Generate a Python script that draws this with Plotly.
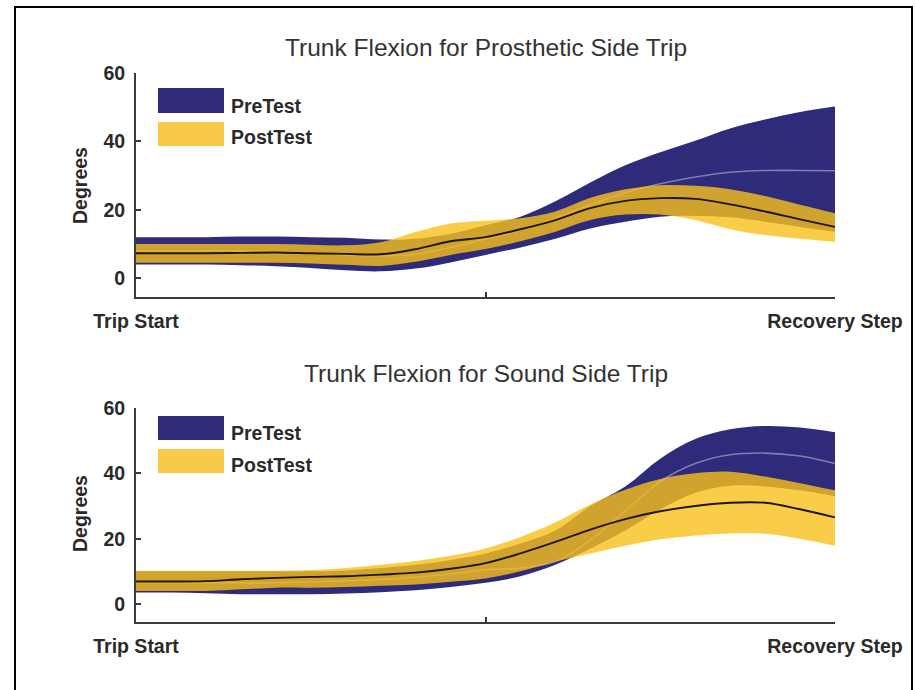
import plotly.graph_objects as go

# Normalised time from trip start (0) to recovery step (100)
t = [0, 5, 10, 15, 20, 25, 30, 35, 40, 45, 50, 55, 60, 65, 70, 75, 80, 85, 90, 95, 100]

# Prosthetic side trip: trunk flexion (degrees)
pros_pre_hi = [12, 12, 12, 12.2, 12.2, 12, 11.8, 11.3, 11.5, 13, 15.5, 18, 22.5, 28, 33, 36.8, 40.2, 43.8, 46.4, 48.6, 50.2]
pros_pre_mean = [8, 8, 8, 8, 7.8, 7.5, 6.8, 6.5, 7, 9, 11.5, 14, 17.5, 21.5, 25, 27.6, 29.6, 31, 31.5, 31.5, 31.4]
pros_pre_lo = [4, 4, 4, 3.8, 3.5, 3, 2.3, 2, 2.8, 4.6, 6.8, 9, 11.5, 14.5, 16.5, 18, 18.2, 17.8, 16.5, 15, 13.6]
pros_post_hi = [10, 10, 10, 10, 10, 9.8, 9.6, 10.5, 13.5, 16, 16.8, 17.5, 19.5, 23.5, 26, 27.2, 27, 26, 24, 21.5, 19]
pros_post_mean = [7.3, 7.3, 7.3, 7.4, 7.5, 7.3, 7.1, 7, 8.5, 10.8, 12, 14.3, 17, 20.5, 22.6, 23.4, 23.2, 21.6, 19.5, 17.2, 15]
pros_post_lo = [4.5, 4.5, 4.5, 4.5, 4.5, 4.3, 3.9, 3.6, 4.8, 6.8, 8.5, 10.8, 13.6, 17, 18.6, 18.6, 17, 14.3, 12.6, 11.5, 10.6]

# Sound side trip: trunk flexion (degrees)
sound_pre_hi = [10, 10, 10, 10, 10, 10, 10.3, 11, 12, 13.5, 15.5, 18.5, 22.5, 30, 36, 44.5, 50.5, 53.5, 54.5, 54, 52.6]
sound_pre_mean = [6.5, 6.5, 6.5, 6.5, 6.5, 6.8, 7, 7.5, 8.2, 9.2, 10.5, 11, 13, 19.5, 28.5, 37.5, 43, 45.7, 46.2, 45.3, 43]
sound_pre_lo = [3.5, 3.5, 3.3, 3, 3, 3, 3.2, 3.6, 4.2, 5.2, 6.5, 8.5, 12, 17, 22.5, 29, 34, 36.2, 36, 34.8, 33]
sound_post_hi = [10.2, 10.2, 10.2, 10.2, 10.2, 10.4, 11, 12, 13.2, 14.8, 17, 20.5, 25, 30.5, 35, 38.3, 40, 40.5, 39, 37, 34.8]
sound_post_mean = [6.9, 6.9, 7, 7.6, 8, 8.3, 8.5, 9, 9.6, 10.8, 12.5, 15.5, 19, 22.8, 26, 28.4, 30, 31, 31, 29, 26.5]
sound_post_lo = [4, 4, 4, 4.5, 5, 5, 5.2, 5.6, 6, 6.8, 7.8, 10, 13, 15.5, 17.8, 19.8, 21, 21.6, 21.5, 20, 17.8]

titles = ["Trunk Flexion for Prosthetic Side Trip", "Trunk Flexion for Sound Side Trip"]
x_tick_vals = [0, 50, 100]
x_tick_text = ["Trip Start", "", "Recovery Step"]
y_tick_vals = [0, 20, 40, 60]
legend_names = ["PreTest", "PostTest"]

NAVY = "#2e2b7a"
YELLOW_FILL = "rgba(249,193,28,0.8)"
YELLOW_SOLID = "#f8c94a"
PRE_LINE = "#7f7eaa"
POST_LINE = "#1e160a"
AXIS = "#3a3a3a"
TEXT = "#2a2a2a"
W, H = 915, 690


def px(x):
    return x / W


def py(y):
    return 1 - y / H


fig = go.Figure()

panels = [
    ("x", "y", pros_pre_lo, pros_pre_mean, pros_pre_hi, pros_post_lo, pros_post_mean, pros_post_hi),
    ("x2", "y2", sound_pre_lo, sound_pre_mean, sound_pre_hi, sound_post_lo, sound_post_mean, sound_post_hi),
]

for xa, ya, pre_lo, pre_mean, pre_hi, post_lo, post_mean, post_hi in panels:
    common = dict(x=t, xaxis=xa, yaxis=ya, mode="lines", showlegend=False, hoverinfo="skip")
    fig.add_trace(go.Scatter(y=pre_lo, line=dict(width=0, shape="spline"), **common))
    fig.add_trace(go.Scatter(y=pre_hi, line=dict(width=0, shape="spline"),
                             fill="tonexty", fillcolor=NAVY, **common))
    fig.add_trace(go.Scatter(y=pre_mean, line=dict(width=1.6, color=PRE_LINE, shape="spline"), **common))
    fig.add_trace(go.Scatter(y=post_lo, line=dict(width=0, shape="spline"), **common))
    fig.add_trace(go.Scatter(y=post_hi, line=dict(width=0, shape="spline"),
                             fill="tonexty", fillcolor=YELLOW_FILL, **common))
    fig.add_trace(go.Scatter(y=post_mean, line=dict(width=1.9, color=POST_LINE, shape="spline"), **common))

tick_font = dict(family="Liberation Sans, Arial, sans-serif", size=19.5, color=TEXT, weight="bold")

xaxis_style = dict(
    range=[0, 100], tickvals=x_tick_vals, ticktext=x_tick_text,
    showline=True, linecolor=AXIS, linewidth=2, showgrid=False, zeroline=False,
    ticks="inside", ticklen=5, tickwidth=1.5, tickcolor=AXIS,
    tickfont=tick_font, ticklabelstandoff=6, fixedrange=True, automargin=False,
)
yaxis_style = dict(
    range=[-5.5, 60], tickvals=y_tick_vals,
    showline=True, linecolor=AXIS, linewidth=2, showgrid=False, zeroline=False,
    ticks="inside", ticklen=5, tickwidth=1.5, tickcolor=AXIS,
    tickfont=tick_font, ticklabelstandoff=5, fixedrange=True, automargin=False,
)

x_dom = [px(136), px(835)]
fig.update_layout(
    width=W, height=H,
    margin=dict(l=0, r=0, t=0, b=0, autoexpand=False),
    paper_bgcolor="white", plot_bgcolor="white",
    showlegend=False,
    xaxis=dict(domain=x_dom, anchor="y", **xaxis_style),
    yaxis=dict(domain=[py(297), py(73)], anchor="x", **yaxis_style),
    xaxis2=dict(domain=x_dom, anchor="y2", **xaxis_style),
    yaxis2=dict(domain=[py(622), py(408)], anchor="x2", **yaxis_style),
)

annotations = []
shapes = []

# Outer frame
shapes.append(dict(type="rect", xref="paper", yref="paper",
                   x0=px(15), x1=px(912), y0=py(700), y1=py(7),
                   line=dict(color="black", width=2), fillcolor="rgba(0,0,0,0)"))

panel_geom = [
    dict(title_y=47, deg_y=186, sw=[(88, 113), (122, 146)], txt=[106, 137]),
    dict(title_y=373, deg_y=514, sw=[(416, 440), (449, 473)], txt=[433, 465]),
]
for title, g in zip(titles, panel_geom):
    annotations.append(dict(text=title, xref="paper", yref="paper",
                            x=px(486), y=py(g["title_y"]), xanchor="center", yanchor="middle",
                            showarrow=False,
                            font=dict(family="Liberation Sans, Arial, sans-serif", size=24.5, color="#333333")))
    annotations.append(dict(text="Degrees", xref="paper", yref="paper",
                            x=px(80), y=py(g["deg_y"]), xanchor="center", yanchor="middle",
                            textangle=-90, showarrow=False, font=tick_font))
    for (y0, y1), ty, name, col in zip(g["sw"], g["txt"], legend_names, [NAVY, YELLOW_SOLID]):
        shapes.append(dict(type="rect", xref="paper", yref="paper",
                           x0=px(158), x1=px(224), y0=py(y1), y1=py(y0),
                           line=dict(width=0), fillcolor=col))
        annotations.append(dict(text=name, xref="paper", yref="paper",
                                x=px(229), y=py(ty), xanchor="left", yanchor="middle",
                                showarrow=False, font=tick_font))

fig.update_layout(annotations=annotations, shapes=shapes)

fig.write_html("out.html")
